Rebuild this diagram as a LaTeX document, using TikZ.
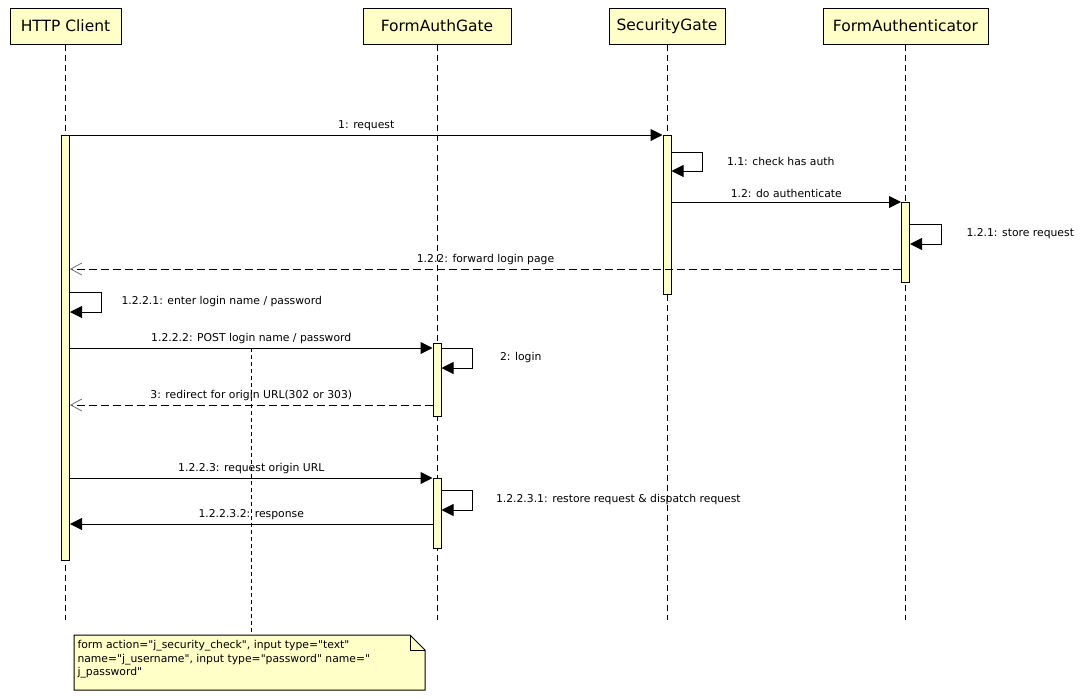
\documentclass[tikz,border=0pt]{standalone}
\usepackage{fontspec}
\setmainfont{DejaVu Sans}
\usetikzlibrary{arrows.meta}
\definecolor{umlfill}{RGB}{255,255,200}
\definecolor{tipgray}{RGB}{110,110,110}
\newcommand{\straightq}{\textquotedbl}

\begin{document}
\begin{tikzpicture}[
     x=1pt, y=-1pt, line width=1pt,
     obj/.style={rectangle,draw,fill=umlfill,minimum height=36pt,inner sep=0pt,font=\fontsize{15.5}{18}\selectfont},
     act/.style={rectangle,draw,fill=umlfill,minimum width=8pt,inner sep=0pt},
     life/.style={dash pattern=on 6pt off 4pt},
     msg/.style={-{Triangle[length=12pt,width=12pt]}},
     ret/.style={dash pattern=on 8pt off 4pt,-{Straight Barb[length=11pt,width=12pt,color=tipgray,line width=0.8pt]}},
     lbl/.style={font=\fontsize{10.8}{13.5}\selectfont,inner sep=2pt}
   ]
   \path[use as bounding box] (0,0) rectangle (1080,697);
   % Objects.
   \node[obj,minimum width=111pt] (client) at (65.5,26) {HTTP Client};
   \node[obj,minimum width=148pt] (gate) at (437,26) {FormAuthGate};
   \node[obj,minimum width=116pt] (secgate) at (667,26) {SecurityGate};
   \node[obj,minimum width=165pt] (auth) at (905.5,26) {FormAuthenticator};
   % Lifelines.
   \coordinate (clientend) at (65.5,620);
   \coordinate (gateend) at (437,620);
   \coordinate (secgateend) at (667,620);
   \coordinate (authend) at (905.5,620);
   \draw[life] (client.south) -- (clientend);
   \draw[life] (gate.south) -- (gateend);
   \draw[life] (secgate.south) -- (secgateend);
   \draw[life] (auth.south) -- (authend);
   % Note.
   \node[minimum width=350pt,minimum height=54pt,anchor=north west] (note) at (74,635) {};
   \draw[fill=umlfill] (note.north west) -- ([xshift=-15pt]note.north east) -- ([yshift=-15pt]note.north east)
     -- (note.south east) -- (note.south west) -- cycle;
   \draw ([xshift=-15pt]note.north east) |- ([yshift=-15pt]note.north east);
   \node[lbl,align=left,anchor=north west] (notetext) at ([xshift=1pt,yshift=-3pt]note.north west)
     {form action=\straightq j\_security\_check\straightq, input type=\straightq text\straightq\\
      name=\straightq j\_username\straightq, input type=\straightq password\straightq{} name=\straightq\\
      j\_password\straightq};
   \coordinate (noteanchor) at (251,348);
   \draw[dash pattern=on 4pt off 3pt] (noteanchor) -- (noteanchor |- note.north);
   % Activations.
   \node[act,minimum height=425pt] (actC) at (65.5,347.5) {};
   \node[act,minimum height=159pt] (actS) at (667,214.5) {};
   \node[act,minimum height=80pt] (actA) at (905.5,242) {};
   \node[act,minimum height=73pt] (actG1) at (437,379.5) {};
   \node[act,minimum height=70pt] (actG2) at (437,513) {};
   % Messages.
   \coordinate (m1) at (0,135);
   \coordinate (m11a) at (0,152);
   \coordinate (m11b) at (0,171);
   \coordinate (m12) at (0,202);
   \coordinate (m121a) at (0,224);
   \coordinate (m121b) at (0,244);
   \coordinate (m122) at (0,269);
   \coordinate (m1221a) at (0,292);
   \coordinate (m1221b) at (0,312);
   \coordinate (m1222) at (0,348);
   \coordinate (m2) at (0,368);
   \coordinate (m3) at (0,405);
   \coordinate (m1223) at (0,478);
   \coordinate (m12231a) at (0,490);
   \coordinate (m12231b) at (0,510);
   \coordinate (m12232) at (0,524);
   \draw[msg] (actC.east |- m1) -- node[lbl,above=2pt] {1: request} (actS.west |- m1);
   \draw[msg] (actS.east |- m11a) -- ++(31,0) |- node[lbl,pos=0.25,right=22pt] {1.1: check has auth} (actS.east |- m11b);
   \draw[msg] (actS.east |- m12) -- node[lbl,above=2pt] {1.2: do authenticate} (actA.west |- m12);
   \draw[msg] (actA.east |- m121a) -- ++(31,0) |- node[lbl,pos=0.25,right=23pt] {1.2.1: store request} (actA.east |- m121b);
   \draw[ret] (actA.west |- m122) -- node[lbl,above=2pt] {1.2.2: forward login page} (actC.east |- m122);
   \draw[msg] (actC.east |- m1221a) -- ++(31,0) |- node[lbl,pos=0.25,right=18pt] {1.2.2.1: enter login name / password} (actC.east |- m1221b);
   \draw[msg] (actC.east |- m1222) -- node[lbl,above=2pt] {1.2.2.2: POST login name / password} (actG1.west |- m1222);
   \draw[msg] (actG1.east |- m1222) -- ++(31,0) |- node[lbl,pos=0.25,right=25pt] {2: login} (actG1.east |- m2);
   \draw[ret] (actG1.west |- m3) -- node[lbl,above=2pt] {3: redirect for origin URL(302 or 303)} (actC.east |- m3);
   \draw[msg] (actC.east |- m1223) -- node[lbl,above=2pt] {1.2.2.3: request origin URL} (actG2.west |- m1223);
   \draw[msg] (actG2.east |- m12231a) -- ++(31,0) |- node[lbl,pos=0.25,right=21pt] {1.2.2.3.1: restore request \& dispatch request} (actG2.east |- m12231b);
   \draw[msg] (actG2.west |- m12232) -- node[lbl,above=2pt] {1.2.2.3.2: response} (actC.east |- m12232);
 \end{tikzpicture}
\end{document}
